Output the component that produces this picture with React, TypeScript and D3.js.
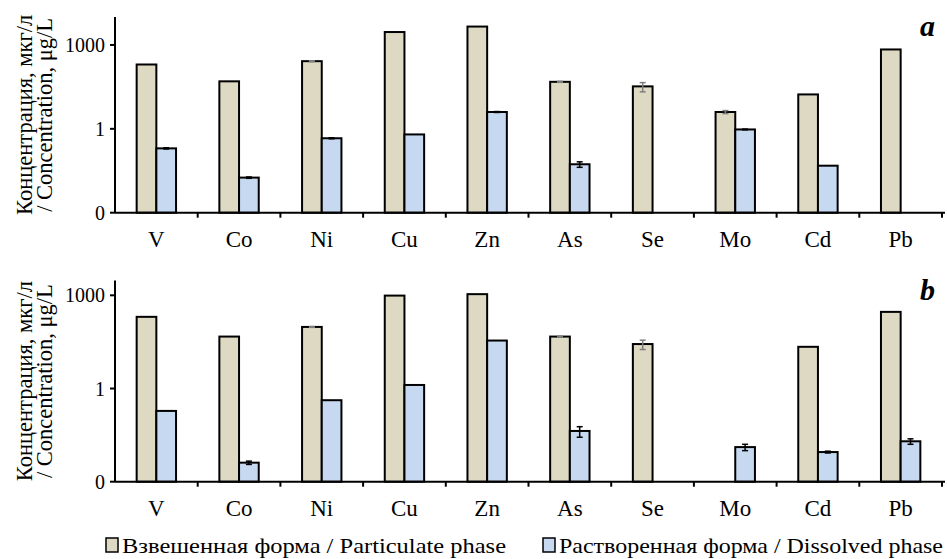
// @ts-nocheck
import React from 'react'
import * as d3 from 'd3'

const categories = ['V', 'Co', 'Ni', 'Cu', 'Zn', 'As', 'Se', 'Mo', 'Cd', 'Pb']

// panel a
const partA = [200, 50, 263, 2900, 4550, 48, 33, 4.0, 17, 690]
const dissA = [0.2, 0.018, 0.46, 0.63, 4.0, 0.054, null, 0.95, 0.048, null]
const partErrA = [0, 0, 10, 0, 0, 2, 12, 0.5, 0, 0]
const dissErrA = [0.01, 0.001, 0.02, 0, 0.15, 0.012, 0, 0.03, 0, 0]

// panel b
const partB = [203, 47, 96, 980, 1090, 47, 27, null, 22, 293]
const dissB = [0.19, 0.0041, 0.42, 1.3, 35, 0.043, null, 0.013, 0.009, 0.02]
const partErrB = [0, 0, 3, 0, 0, 1.5, 9, 0, 0, 0]
const dissErrB = [0, 0.0005, 0, 0, 0, 0.016, 0, 0.003, 0.0006, 0.004]

const yTicks = [0.001, 1, 1000]
const yTitle = ['Концентрация, мкг/л', '/ Concentration, μg/L']
const seriesNames = ['Взвешенная форма / Particulate phase', 'Растворенная форма / Dissolved phase']
const colors = ['#ddd9c3', '#c6d9f1']
const errColors = ['#7f7f7f', '#000']

const FONT = { fontFamily: "'Liberation Serif'" }

const panels = [
    { id: 'a', part: partA, diss: dissA, pErr: partErrA, dErr: dissErrA, top: 17, bottom: 212.7, max: 10000 },
    { id: 'b', part: partB, diss: dissB, pErr: partErrB, dErr: dissErrB, top: 280.5, bottom: 481.7, max: 3000 },
]

const left = 115, right = 942

const x = d3.scaleBand(categories, [left, right]).padding(0)
const sub = d3.scaleBand(['p', 'd'], [0, x.bandwidth()]).paddingInner(0).paddingOuter(1.1)

const Panel = ({ p }) => {
    const y = d3.scaleLog([0.001, p.max], [p.bottom, p.top])
    const series = [
        { key: 'p', vals: p.part, err: p.pErr, i: 0 },
        { key: 'd', vals: p.diss, err: p.dErr, i: 1 },
    ]
    const cy = (p.top + p.bottom) / 2

    return <g>
        {series.map(s => categories.map((c, j) => {
            const v = s.vals[j]
            if (v == null) return null
            const bx = x(c) + sub(s.key)
            const cx = bx + sub.bandwidth() / 2
            const e = s.err[j]
            const y1 = y(v + e), y2 = y(Math.max(v - e, 0.0011))
            return <g key={s.key + c}>
                <rect x={bx} y={y(v)} width={sub.bandwidth()} height={p.bottom - y(v)}
                    fill={colors[s.i]} stroke="#000" strokeWidth={2} />
                {e > 0 && <g stroke={errColors[s.i]} strokeWidth={1.5}>
                    <line x1={cx} x2={cx} y1={y1} y2={y2} />
                    <line x1={cx - 3} x2={cx + 3} y1={y1} y2={y1} />
                    <line x1={cx - 3} x2={cx + 3} y1={y2} y2={y2} />
                </g>}
            </g>
        }))}

        {/* y axis */}
        <line x1={left} x2={left} y1={p.top} y2={p.bottom} stroke="#000" strokeWidth={2} />
        {yTicks.map(t => <g key={t}>
            <line x1={left - 5} x2={left} y1={y(t)} y2={y(t)} stroke="#000" strokeWidth={2} />
            <text x={left - 10} y={y(t)} dy="0.35em" textAnchor="end" fontSize={20} style={FONT}>
                {t === 0.001 ? '0' : String(t)}
            </text>
        </g>)}

        {/* x axis */}
        <line x1={left} x2={right + 3} y1={p.bottom} y2={p.bottom} stroke="#000" strokeWidth={2} />
        {categories.map(c => <g key={c}>
            <line x1={x(c) + x.step()} x2={x(c) + x.step()} y1={p.bottom} y2={p.bottom + 5}
                stroke="#000" strokeWidth={2} />
            <text x={x(c) + x.bandwidth() / 2} y={p.bottom + 34.5} textAnchor="middle" fontSize={23} style={FONT}>{c}</text>
        </g>)}

        {/* y title */}
        {yTitle.map((t, k) => <text key={t} transform={`translate(${32 + k * 20},${cy}) rotate(-90)`}
            textAnchor="middle" fontSize={22.5} style={FONT}>{t}</text>)}

        <text x={935} y={p.top + 19} textAnchor="end" fontSize={30} fontStyle="italic" fontWeight="bold" style={FONT}>{p.id}</text>
    </g>
}

export default function App() {
    const lx = [106, 543]
    return <svg width={947} height={559}
        style={{ position: 'absolute', left: 0, top: 0, background: '#fff' }}>
        {panels.map(p => <Panel key={p.id} p={p} />)}
        {seriesNames.map((n, i) => <g key={n} transform={`translate(${lx[i]},538)`}>
            <rect width={12} height={14} fill={colors[i]} stroke="#000" strokeWidth={1.5} />
            <text x={16} y={14.5} fontSize={22} textLength={384} lengthAdjust="spacingAndGlyphs" style={FONT}>{n}</text>
        </g>)}
    </svg>
}
